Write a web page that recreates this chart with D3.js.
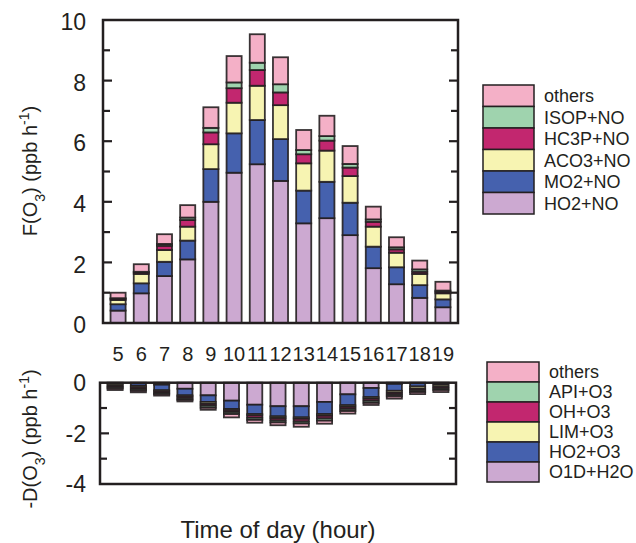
<!DOCTYPE html>
<html lang="en">
<head>
<meta charset="UTF-8">
<title>Ozone production and loss</title>
<script src="https://d3js.org/d3.v7.min.js"></script>
<style>
  body { margin: 0; background: #fff; }
  text { font-family: "Liberation Sans", Arial, sans-serif; fill: #231f20; }
</style>
</head>
<body>
<div id="chart"></div>
<script>
// hours of day
var hours = [5, 6, 7, 8, 9, 10, 11, 12, 13, 14, 15, 16, 17, 18, 19];

// production terms F(O3), ppb/h
var prodNames = ["HO2+NO", "MO2+NO", "ACO3+NO", "HC3P+NO", "ISOP+NO", "others"];
var ho2no  = [0.41, 0.98, 1.55, 2.10, 4.00, 4.96, 5.24, 4.69, 3.29, 3.46, 2.90, 1.81, 1.28, 0.83, 0.52];
var mo2no  = [0.21, 0.33, 0.47, 0.62, 1.08, 1.30, 1.46, 1.38, 1.08, 1.20, 1.07, 0.71, 0.56, 0.42, 0.26];
var aco3no = [0.14, 0.31, 0.39, 0.46, 0.82, 1.01, 1.13, 1.12, 0.90, 1.03, 0.88, 0.66, 0.48, 0.37, 0.20];
var hc3pno = [0.04, 0.05, 0.14, 0.22, 0.39, 0.48, 0.52, 0.42, 0.30, 0.33, 0.28, 0.16, 0.11, 0.07, 0.05];
var isopno = [0.02, 0.02, 0.06, 0.08, 0.15, 0.19, 0.24, 0.27, 0.14, 0.15, 0.12, 0.08, 0.07, 0.08, 0.04];
var prodOth = [0.18, 0.25, 0.32, 0.41, 0.68, 0.87, 0.94, 0.89, 0.66, 0.67, 0.59, 0.42, 0.33, 0.29, 0.29];

// loss terms -D(O3), ppb/h (stacked downward)
var lossNames = ["O1D+H2O", "HO2+O3", "LIM+O3", "OH+O3", "API+O3", "others"];
var o1dh2o = [0.01, 0.03, 0.08, 0.24, 0.50, 0.71, 0.87, 0.93, 0.93, 0.76, 0.46, 0.21, 0.05, 0.02, 0.01];
var ho2o3  = [0.05, 0.10, 0.22, 0.26, 0.26, 0.33, 0.37, 0.40, 0.44, 0.48, 0.43, 0.36, 0.27, 0.13, 0.08];
var limo3  = [0.07, 0.06, 0.05, 0.05, 0.08, 0.05, 0.06, 0.07, 0.06, 0.07, 0.07, 0.07, 0.08, 0.09, 0.08];
var oho3   = [0.05, 0.06, 0.06, 0.07, 0.07, 0.07, 0.09, 0.09, 0.10, 0.10, 0.08, 0.08, 0.07, 0.06, 0.06];
var apio3  = [0.05, 0.06, 0.05, 0.06, 0.08, 0.08, 0.08, 0.08, 0.08, 0.09, 0.08, 0.08, 0.07, 0.07, 0.06];
var lossOth = [0.06, 0.07, 0.05, 0.06, 0.08, 0.13, 0.11, 0.11, 0.13, 0.12, 0.10, 0.08, 0.09, 0.08, 0.08];

var colors = ["#cca9d1", "#4561ae", "#f7f4b2", "#c2276f", "#9fd3ae", "#f4b0c7"];
var ink = "#231f20";

var prodSeries = [ho2no, mo2no, aco3no, hc3pno, isopno, prodOth];
var lossSeries = [o1dh2o, ho2o3, limo3, oho3, apio3, lossOth];

var svg = d3.select("#chart").append("svg")
    .attr("width", 636)
    .attr("height", 543);

// build rows for d3.stack
function rows(series) {
    return hours.map(function(h, i) {
        var r = { hour: h };
        series.forEach(function(s, k) { r[k] = s[i]; });
        return r;
    });
}

var keys = d3.range(6);

// ---- top panel ----
var xTop = d3.scaleBand().domain(hours).range([103, 458]).paddingInner(0.35).paddingOuter(0.325);
var yTop = d3.scaleLinear().domain([0, 10]).range([323, 20]);

var prodStack = d3.stack().keys(keys)(rows(prodSeries));

var gTop = svg.append("g");
prodStack.forEach(function(layer, k) {
    gTop.selectAll(null)
        .data(layer)
        .enter().append("rect")
        .attr("x", function(d) { return xTop(d.data.hour); })
        .attr("width", xTop.bandwidth())
        .attr("y", function(d) { return yTop(d[1]); })
        .attr("height", function(d) { return yTop(d[0]) - yTop(d[1]); })
        .attr("fill", colors[k])
        .attr("stroke", ink)
        .attr("stroke-opacity", 0.9)
        .attr("stroke-width", 1.8);
});

// frame + ticks
function frame(x0, x1, y, ticks, labelTicks, labelShift) {
    var top = Math.min(y.range()[0], y.range()[1]);
    svg.append("rect")
        .attr("x", x0).attr("y", top)
        .attr("width", x1 - x0)
        .attr("height", Math.abs(y.range()[1] - y.range()[0]))
        .attr("fill", "none")
        .attr("stroke", ink)
        .attr("stroke-width", 2.5);

    ticks.forEach(function(t) {
        var major = labelTicks.indexOf(t) >= 0;
        var len = major ? 9 : 7;
        svg.append("line")
            .attr("x1", x0).attr("x2", x0 + len)
            .attr("y1", y(t)).attr("y2", y(t))
            .attr("stroke", ink).attr("stroke-width", 2.2);
        svg.append("line")
            .attr("x1", x1).attr("x2", x1 - len)
            .attr("y1", y(t)).attr("y2", y(t))
            .attr("stroke", ink).attr("stroke-width", 2.2);
    });

    svg.selectAll(null)
        .data(labelTicks)
        .enter().append("text")
        .attr("x", 86)
        .attr("y", function(d) { return y(d) + labelShift; })
        .attr("dy", "0.36em")
        .attr("text-anchor", "end")
        .style("font-size", "23px")
        .text(function(d) { return d; });
}

frame(103, 458, yTop, d3.range(1, 10), [0, 2, 4, 6, 8, 10], 2);

// hour labels between the panels
svg.selectAll(null)
    .data(hours)
    .enter().append("text")
    .attr("x", function(d) { return xTop(d) + xTop.bandwidth() / 2; })
    .attr("y", 354)
    .attr("dy", "0.36em")
    .attr("text-anchor", "middle")
    .style("font-size", "20px")
    .text(function(d) { return d; });

// ---- bottom panel ----
var xBot = d3.scaleBand().domain(hours).range([100, 456]).paddingInner(0.35).paddingOuter(0.325);
var yBot = d3.scaleLinear().domain([0, -4]).range([382.7, 484]);

var lossStack = d3.stack().keys(keys)(rows(lossSeries));

var gBot = svg.append("g");
lossStack.forEach(function(layer, k) {
    gBot.selectAll(null)
        .data(layer)
        .enter().append("rect")
        .attr("x", function(d) { return xBot(d.data.hour); })
        .attr("width", xBot.bandwidth())
        .attr("y", function(d) { return yBot(-d[0]); })
        .attr("height", function(d) { return yBot(-d[1]) - yBot(-d[0]); })
        .attr("fill", colors[k])
        .attr("stroke", ink)
        .attr("stroke-opacity", 0.9)
        .attr("stroke-width", 1.8);
});

frame(100, 456, yBot, [-1, -2, -3], [0, -2, -4], 0);

// ---- legends ----
function legend(names, x, y0, w, h, tx) {
    var g = svg.append("g");
    var order = d3.range(names.length).reverse();
    order.forEach(function(k, i) {
        g.append("rect")
            .attr("x", x).attr("y", y0 + i * h)
            .attr("width", w).attr("height", h)
            .attr("fill", colors[k])
            .attr("stroke", ink)
            .attr("stroke-width", 1.5);
        g.append("text")
            .attr("x", tx)
            .attr("y", y0 + i * h + h / 2)
            .attr("dy", "0.36em")
            .style("font-size", "18px")
            .text(names[k]);
    });
}
legend(prodNames, 483, 85, 51, 21.5, 544);
legend(lossNames, 487, 362, 52, 20, 549);

// ---- axis titles ----
function yTitle(prefix, cx, cy) {
    var t = svg.append("text")
        .attr("transform", "translate(" + cx + "," + cy + ") rotate(-90)")
        .attr("text-anchor", "middle")
        .style("font-size", "20px");
    t.append("tspan").text(prefix + "(O");
    t.append("tspan").attr("baseline-shift", "sub").style("font-size", "14px").text("3");
    t.append("tspan").text(") (ppb h");
    t.append("tspan").attr("baseline-shift", "super").style("font-size", "14px").text("-1");
    t.append("tspan").text(")");
}
yTitle("F", 37, 171);
yTitle("-D", 37, 439);

svg.append("text")
    .attr("x", 278)
    .attr("y", 538)
    .attr("text-anchor", "middle")
    .style("font-size", "24px")
    .text("Time of day (hour)");
</script>
</body>
</html>
